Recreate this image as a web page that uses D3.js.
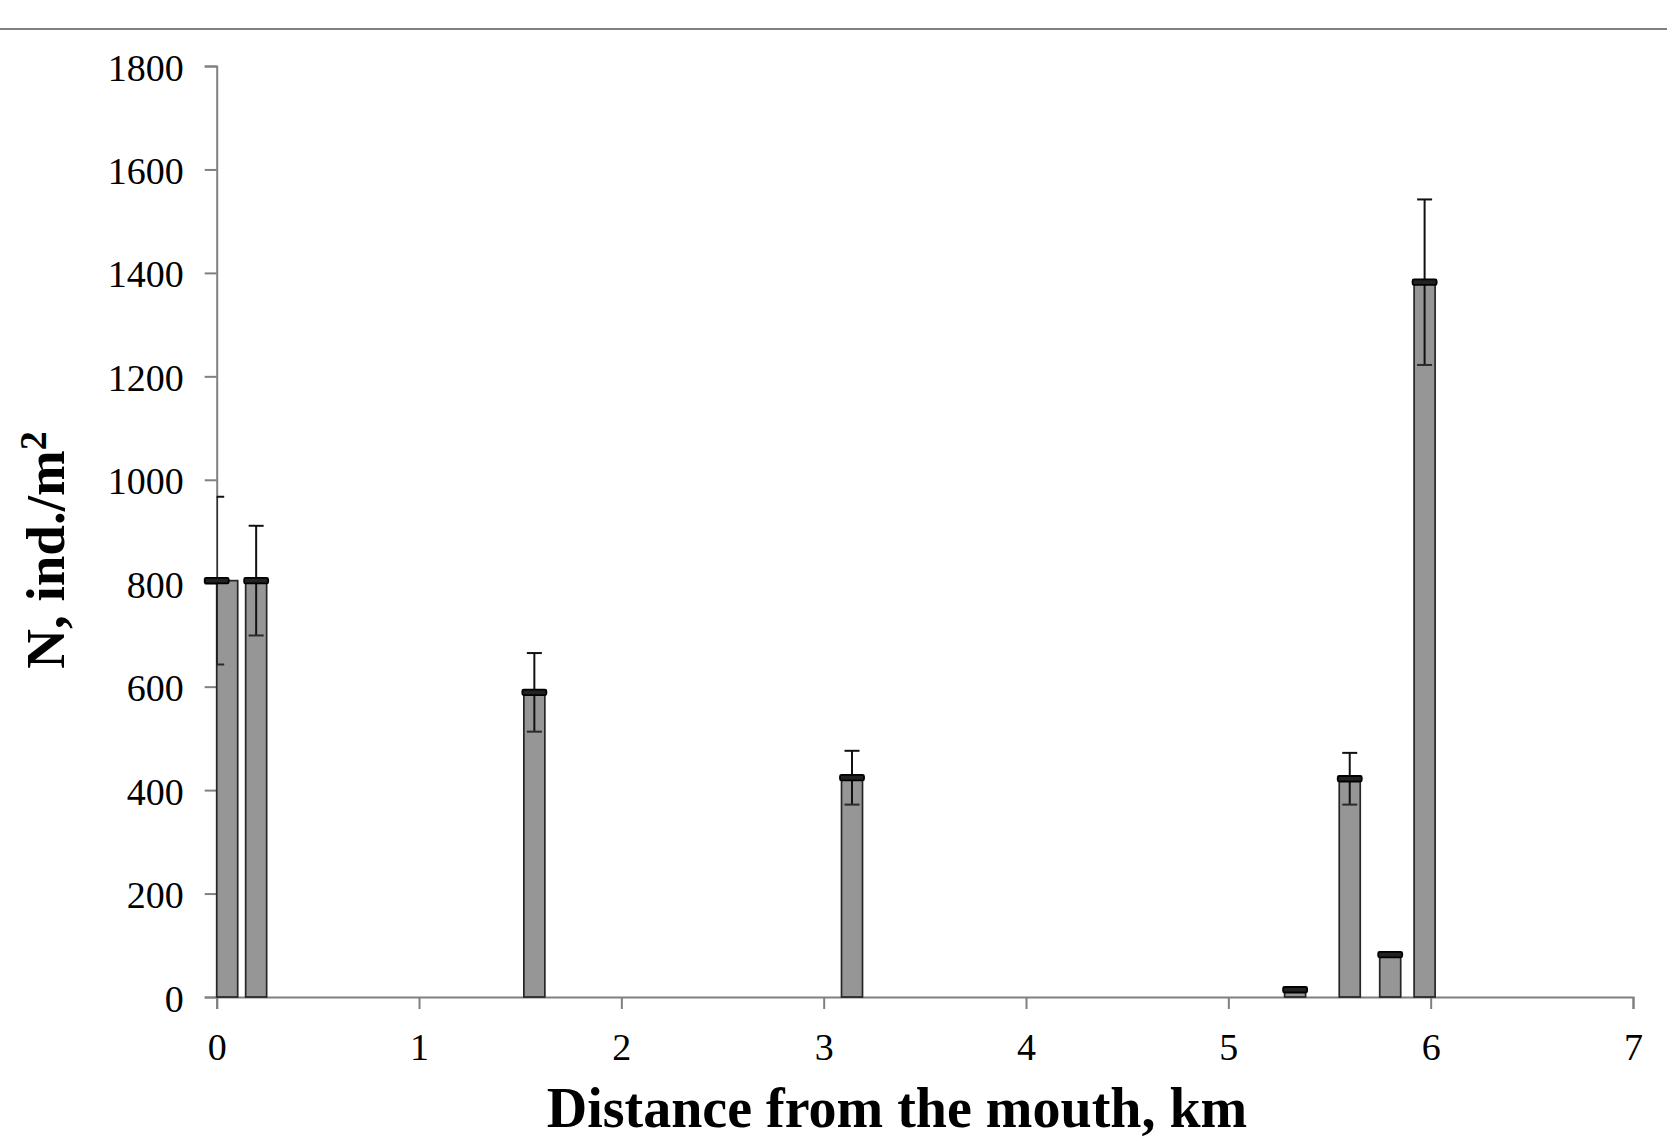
<!DOCTYPE html>
<html>
<head>
<meta charset="utf-8">
<script src="https://cdn.jsdelivr.net/npm/d3@7"></script>
<style>
  html, body { margin: 0; padding: 0; background: #fff; }
  svg { display: block; }
</style>
</head>
<body>
<script>
// ---- data ----
const distances = [0, 0.195, 1.57, 3.14, 5.33, 5.60, 5.80, 5.97];   // km
const means     = [805, 805, 589, 424, 14, 422, 82, 1382];          // ind./m2
const errors    = [162, 106, 76, 52, 3, 50, 4, 160];                // +/- error
const yTicks = [0, 200, 400, 600, 800, 1000, 1200, 1400, 1600, 1800];
const xTicks = [0, 1, 2, 3, 4, 5, 6, 7];

(function () {
// ---- layout ----
const W = 1667, H = 1144;
const pL = 216.7, pR = 1633, pT = 66, pB = 997;
const font = '"Liberation Serif", "Times New Roman", serif';
const axisColor = '#808080';
const barW = 21, markW = 24, markH = 5.5, capW = 15;

const svg = d3.select('body').append('svg').attr('width', W).attr('height', H);

const x = d3.scaleLinear().domain([0, 7]).range([pL, pR]);
const y = d3.scaleLinear().domain([0, 1800]).range([pB, pT]);

// top rule
svg.append('line').attr('x1', 0).attr('x2', W).attr('y1', 29).attr('y2', 29)
  .attr('stroke', axisColor).attr('stroke-width', 2);

// axes
const yAxis = svg.append('g').attr('transform', `translate(${pL},0)`)
  .call(d3.axisLeft(y).tickValues(yTicks).tickSize(12).tickSizeOuter(12).tickFormat(d3.format('d')));
const xAxis = svg.append('g').attr('transform', `translate(0,${pB})`)
  .call(d3.axisBottom(x).tickValues(xTicks).tickSize(12).tickSizeOuter(12).tickFormat(d3.format('d')));

[yAxis, xAxis].forEach(g => {
  g.selectAll('path.domain').attr('stroke', axisColor).attr('stroke-width', 2);
  g.selectAll('.tick line').attr('stroke', axisColor).attr('stroke-width', 2);
  g.selectAll('.tick text').attr('fill', '#000').style('font-family', font).style('font-size', '38px');
});
yAxis.selectAll('.tick text').attr('x', -33).attr('dy', '0.37em');
xAxis.selectAll('.tick text').attr('y', 63).attr('dy', 0);

// data rows
const rows = distances.map((d, i) => ({ d, m: means[i], e: errors[i] }));

// clip for error bars (plot area)
svg.append('clipPath').attr('id', 'plotclip').append('rect')
  .attr('x', pL).attr('y', 0).attr('width', pR - pL + 20).attr('height', pB + 1);

// bars
svg.append('g').selectAll('rect').data(rows).join('rect')
  .attr('x', r => Math.max(x(r.d) - barW / 2, x(0)))
  .attr('y', r => y(r.m))
  .attr('width', barW)
  .attr('height', r => y(0) - y(r.m))
  .attr('fill', '#969696')
  .attr('stroke', '#262626')
  .attr('stroke-width', 1.7);

// error bars
const eb = svg.append('g').attr('clip-path', 'url(#plotclip)');
eb.selectAll('line.v').data(rows).join('line').attr('class', 'v')
  .attr('x1', r => x(r.d)).attr('x2', r => x(r.d))
  .attr('y1', r => y(r.m + r.e)).attr('y2', r => y(r.m - r.e))
  .attr('stroke', '#111').attr('stroke-width', 2);
eb.selectAll('line.ct').data(rows).join('line').attr('class', 'ct')
  .attr('x1', r => x(r.d) - capW / 2).attr('x2', r => x(r.d) + capW / 2)
  .attr('y1', r => y(r.m + r.e)).attr('y2', r => y(r.m + r.e))
  .attr('stroke', '#111').attr('stroke-width', 2);
eb.selectAll('line.cb').data(rows).join('line').attr('class', 'cb')
  .attr('x1', r => x(r.d) - capW / 2).attr('x2', r => x(r.d) + capW / 2)
  .attr('y1', r => y(r.m - r.e)).attr('y2', r => y(r.m - r.e))
  .attr('stroke', '#2a2a2a').attr('stroke-width', 2);

// mean markers (dash)
svg.append('g').selectAll('rect').data(rows).join('rect')
  .attr('x', r => x(r.d) - markW / 2)
  .attr('y', r => y(r.m) - markH / 2)
  .attr('width', markW).attr('height', markH)
  .attr('rx', 1.5)
  .attr('fill', '#222').attr('stroke', '#000').attr('stroke-width', 1.8);

// axis titles
svg.append('text')
  .attr('x', 897).attr('y', 1127)
  .attr('text-anchor', 'middle')
  .style('font-family', font).style('font-size', '56px').style('font-weight', 'bold')
  .text('Distance from the mouth, km');

const yt = svg.append('text')
  .attr('transform', 'translate(64,550) rotate(-90)')
  .attr('text-anchor', 'middle')
  .style('font-family', font).style('font-size', '55px').style('font-weight', 'bold');
yt.append('tspan').text('N, ind./m');
yt.append('tspan').attr('dy', '-0.48em').style('font-size', '38px').text('2');
})();
</script>
</body>
</html>
